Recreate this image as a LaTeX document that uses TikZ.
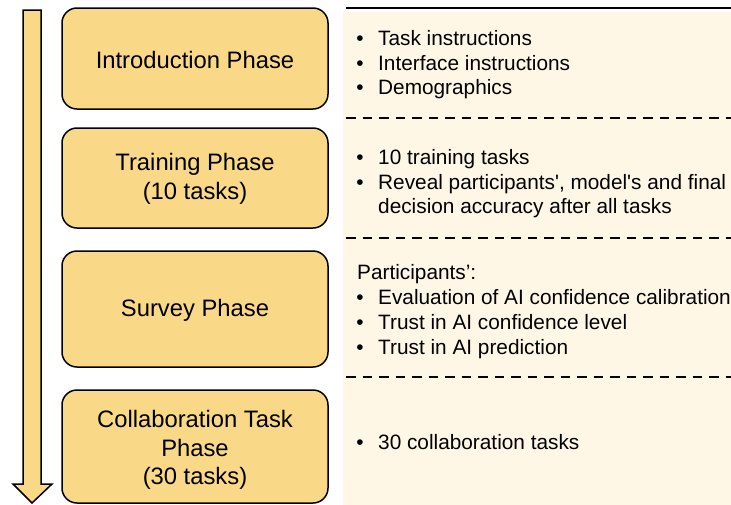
\documentclass[tikz,border=0pt]{standalone}
\usepackage{fontspec}
\setmainfont{Liberation Sans}[Ligatures=TeXOff]
\definecolor{phasegold}{HTML}{F9D987}
\definecolor{panelcream}{HTML}{FEF7E6}
\begin{document}
\begin{tikzpicture}[x=1pt,y=-1pt,
  phasebox/.style={draw=black,line width=1.5pt,fill=phasegold,rounded corners=15pt},
  phaselabel/.style={align=center,font=\fontsize{23.8}{28.5}\selectfont,inner sep=0pt},
  itemtext/.style={anchor=base west,align=left,inner sep=0pt,font=\fontsize{20.8}{24.8}\selectfont},
  bulletmark/.style={anchor=base,inner sep=0pt,font=\fontsize{20.8}{24.8}\selectfont},
  divider/.style={line width=2pt,dash pattern=on 9.5pt off 7pt}]
\useasboundingbox (0,0) rectangle (731,504);
\clip (0,0) rectangle (731,504);
\fill[white] (0,0) rectangle (731,504);

% timeline arrow
\draw[line width=1.5pt,fill=phasegold,line join=miter]
  (23,10) -- (41,10) -- (41,484) -- (52,484) -- (32,503) -- (13,484) -- (23,484) -- cycle;

% detail panel
\fill[panelcream] (343,12) rectangle (740,510);
\draw[line width=2pt] (346,8) -- (740,8);
\coordinate (d1a) at (346,118); \coordinate (d1b) at (740,118);
\coordinate (d2a) at (346,238); \coordinate (d2b) at (740,238);
\coordinate (d3a) at (346,377); \coordinate (d3b) at (740,377);
\draw[divider] (d1a) -- (d1b);
\draw[divider] (d2a) -- (d2b);
\draw[divider] (d3a) -- (d3b);

% phase boxes
\draw[phasebox] (62,8) rectangle (328,109);
\draw[phasebox] (62,128) rectangle (328,228);
\draw[phasebox] (62,251) rectangle (328,367);
\draw[phasebox] (62,390) rectangle (328,503);
\node[phaselabel] (intro) at (195,60) {Introduction Phase};
\node[phaselabel] (train) at (195,179) {Training Phase\\(10 tasks)};
\node[phaselabel] (survey) at (195,310) {Survey Phase};
\node[phaselabel] (collab) at (195,450) {Collaboration Task\\Phase\\(30 tasks)};

% bullet lists (coordinates are text baselines)
\newcommand{\bul}[3]{%
  \node[bulletmark] at (360,#1) {•};
  \node[itemtext] (#2) at (378,#1) {#3};}
\bul{45.5}{i1}{Task instructions}
\bul{70}{i2}{Interface instructions}
\bul{94.5}{i3}{Demographics}
\bul{164.5}{t1}{10 training tasks}
\bul{189}{t2}{Reveal participants', model's and final}
\node[itemtext] (t3) at (378,213.5) {decision accuracy after all tasks};
\node[itemtext] (s0) at (357,279.5) {Participants’:};
\bul{304.5}{s1}{Evaluation of AI confidence calibration}
\bul{329}{s2}{Trust in AI confidence level}
\bul{354}{s3}{Trust in AI prediction}
\bul{449.5}{c1}{30 collaboration tasks}
\end{tikzpicture}
\end{document}
